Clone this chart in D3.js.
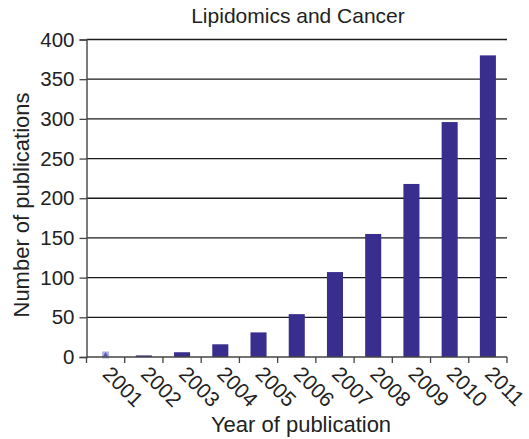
<!DOCTYPE html>
<html><head><meta charset="utf-8">
<script src="https://cdn.jsdelivr.net/npm/d3@7"></script>
<style>body{margin:0;background:#fff}svg{display:block;font-family:"Liberation Sans",Arial,sans-serif}</style>
</head><body>
<svg id="c" width="529" height="439"></svg>
<script>
const years = ["2001","2002","2003","2004","2005","2006","2007","2008","2009","2010","2011"];
const counts = [0,2,6,16,31,54,107,155,218,296,380];
const yTicks = [0,50,100,150,200,250,300,350,400];

const svg = d3.select("#c");
const FONT = "Liberation Sans, Arial, sans-serif";
const m = {l:86.5, r:22, t:39.5, b:82};
const W = 529, H = 439;
const x = d3.scaleBand().domain(years).range([m.l, W-m.r]).paddingInner(0.58).paddingOuter(0.29);
const xb = d3.scaleBand().domain(years).range([m.l, W-m.r]);
const y = d3.scaleLinear().domain([0,400]).range([H-m.b, m.t]);

// gridlines
svg.append("g").selectAll("line").data(yTicks.filter(d=>d>0)).join("line")
  .attr("x1", m.l).attr("x2", W-m.r).attr("y1", d=>y(d)).attr("y2", d=>y(d))
  .attr("stroke","#1a1a1a").attr("stroke-width",1.3);

// bars
svg.append("g").selectAll("rect").data(years.map((d,i)=>({k:d,v:counts[i]})).filter(d=>d.v>0)).join("rect")
  .attr("x", d=>x(d.k)).attr("width", x.bandwidth())
  .attr("y", d=>y(d.v)).attr("height", d=>y(0)-y(d.v))
  .attr("fill","#392d8e");

// tiny marker for 2001 (zero value)
const cx01 = xb("2001")+xb.bandwidth()/2;
svg.append("rect").attr("x", cx01-3.5).attr("y", y(0)-5.5).attr("width",7).attr("height",7)
  .attr("fill","#aeb2e2");
svg.append("path").attr("d", d3.symbol(d3.symbolTriangle,12)()).attr("transform",`translate(${cx01},${y(0)-2})`).attr("fill","#5a5ab0");

// y axis
const ya = d3.axisLeft(y).tickValues(yTicks).tickSize(7).tickPadding(5);
const gy = svg.append("g").attr("transform",`translate(${m.l},0)`).call(ya);
gy.attr("font-size",null).attr("font-family",null);
gy.select(".domain").attr("stroke","#444").attr("stroke-width",1.4);
gy.selectAll(".tick line").attr("stroke","#444").attr("stroke-width",1.3);
gy.selectAll("text").style("font-size","20.5px").attr("fill","#222").style("font-family",FONT);

// x axis
const gx = svg.append("g").attr("transform",`translate(0,${y(0)})`);
gx.append("line").attr("x1",m.l).attr("x2",W-m.r).attr("y1",0).attr("y2",0).attr("stroke","#444").attr("stroke-width",1.6);
const bounds = years.map(d=>xb(d)).concat([W-m.r]);
gx.selectAll("line.t").data(bounds).join("line").attr("class","t")
  .attr("x1",d=>d).attr("x2",d=>d).attr("y1",0).attr("y2",6).attr("stroke","#444").attr("stroke-width",1.3);
gx.selectAll("text").data(years).join("text")
  .attr("transform", d=>`translate(${xb(d)+xb.bandwidth()/2+1},${13}) rotate(45)`)
  .style("font-size","21px").attr("fill","#222").attr("dy","0.35em")
  .text(d=>d);

// titles
svg.append("text").attr("x",298).attr("y",23).attr("text-anchor","middle").style("font-size","21px").attr("fill","#222").text("Lipidomics and Cancer");
svg.append("text").attr("x",301).attr("y",432).attr("text-anchor","middle").style("font-size","22px").attr("fill","#222").text("Year of publication");
svg.append("text").attr("transform","translate(29,205) rotate(-90)").attr("text-anchor","middle").style("font-size","22px").attr("fill","#222").text("Number of publications");
</script>
</body></html>
